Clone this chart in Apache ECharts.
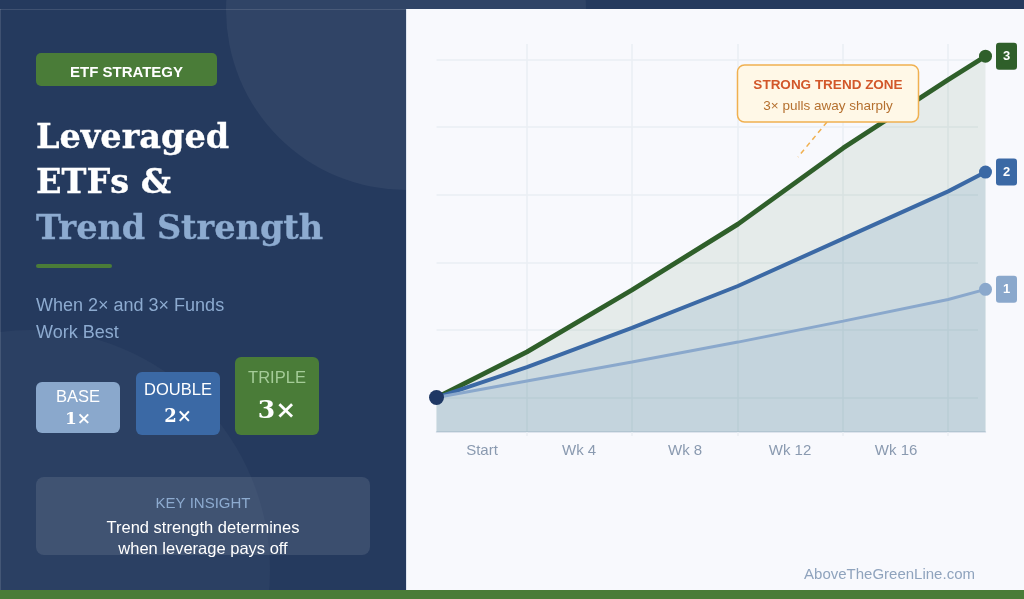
<!DOCTYPE html>
<html><head><meta charset="utf-8"><style>html,body{margin:0;padding:0;background:#f8f9fd}#c{width:1024px;height:599px}</style>
<script src="https://cdn.jsdelivr.net/npm/echarts@6/dist/echarts.min.js"></script></head><body><div id="c"></div>
<script>
const weeks=[0,3.44,7.43,11.46,15.46,19.45,20.87];
const triple=[100,113.5,131.8,151.3,173.8,194,201];
const double=[100,109,120.6,133,147,161,166.7];
const base=[100,104.9,110.5,116.4,122.6,129,132];
const tickLabels=['Start','Wk 4','Wk 8','Wk 12','Wk 16'];
const labelWeeks=[1.73,5.42,9.45,13.44,17.47];
const yLines=[100,120,140,160,180,200];
const SANS='"Liberation Sans"',SERIF='"DejaVu Serif"';
const T=(text,x,y,fill,font,align,z,sw)=>{const s=parseFloat(font.match(/([\d.]+)px/)[1]);return {type:'text',z:z||5,style:Object.assign({text,x,y:y-0.35*s,fill,font,align:align||'left',verticalAlign:'middle'},sw?{stroke:fill,lineWidth:sw}:{})}};
const R=(x,y,w,h,r,fill,z)=>({type:'rect',z:z||4,shape:{x,y,width:w,height:h,r},style:{fill}});
const lab=v=>{const i=labelWeeks.indexOf(v);return i<0?'':tickLabels[i]};
const mk=(name,vals,color,lw,areaColor,op,label)=>({type:'line',name,xAxisIndex:1,yAxisIndex:1,
  data:weeks.map((w,i)=>[w,vals[i]]),smooth:false,clip:false,showSymbol:true,
  symbol:'circle',symbolSize:(v,p)=>p.dataIndex===weeks.length-1?13:0,
  lineStyle:{color,width:lw},itemStyle:{color},areaStyle:{color:areaColor,opacity:op,origin:'start'},
  endLabel:{show:true,formatter:label,position:'right',distance:21,backgroundColor:color,color:'#fff',
    fontFamily:SANS,fontWeight:'bold',fontSize:13,width:21,height:27,lineHeight:27,align:'center',verticalAlign:'middle',borderRadius:3},
  emphasis:{disabled:true},animation:false});
const bg=[
 R(0,0,1024,9,0,'#253a5e',-20),
 R(0,9,407,581,0,'#253a5e',-20),
 {type:'circle',z:-19,shape:{cx:406,cy:10,r:180},style:{fill:'rgba(255,255,255,0.05)'}},
 {type:'circle',z:-19,shape:{cx:30,cy:570,r:240},style:{fill:'rgba(255,255,255,0.03)'}},
 R(0,9,407,1,0,'rgba(255,255,255,0.12)',-18),
 R(0,9,1,581,0,'rgba(255,255,255,0.12)',-18),
 R(406,9,618,581,0,'#f8f9fd',-17),
 R(406,9,1,581,0,'#dfe6f0',-16),
 R(0,590,1024,9,0,'#4a7c38',-15)
];
const left=[
 R(36,53,181,33,5,'#4a7c38'),
 T('ETF STRATEGY',126.5,78,'#fff','bold 15px '+SANS,'center'),
 T('Leveraged',36,151,'#fff','bold 33.5px '+SERIF,'left',5,.35),
 T('ETFs &',36,196.5,'#fff','bold 33.5px '+SERIF,'left',5,.35),
 T('Trend Strength',36,242,'#8dabd0','bold 33.5px '+SERIF,'left',5,.35),
 R(36,264,76,4,2,'#4a7c38'),
 T('When 2× and 3× Funds',36,312,'#8dabd0','18px '+SANS),
 T('Work Best',36,339,'#8dabd0','18px '+SANS),
 R(36,382,84,51,6,'#8aa8cc'),
 T('BASE',78,403,'#fff','16.5px '+SANS,'center'),
 T('1×',78,425.5,'#fff','bold 17px '+SERIF,'center'),
 R(136,372,84,63,6,'#3b69a5'),
 T('DOUBLE',178,396,'#fff','16.5px '+SANS,'center'),
 T('2×',178,424,'#fff','bold 18px '+SERIF,'center'),
 R(235,357,84,78,6,'#4a7c38'),
 T('TRIPLE',277,384,'#a5cc98','16.5px '+SANS,'center'),
 T('3×',277,420,'#fff','bold 25px '+SERIF,'center'),
 R(36,477,334,78,8,'rgba(255,255,255,0.1)'),
 T('KEY INSIGHT',203,509,'#8dabd0','15px '+SANS,'center'),
 T('Trend strength determines',203,534,'#fff','16.5px '+SANS,'center'),
 T('when leverage pays off',203,555,'#fff','16.5px '+SANS,'center')
];
const call=[
 {type:'line',z:100,shape:{x1:827,y1:122,x2:798,y2:157},style:{stroke:'#f0b050',lineWidth:1.5,lineDash:[5,4]}},
 {type:'rect',z:101,shape:{x:737.5,y:65,width:181,height:57,r:7},style:{fill:'#fff8e7',stroke:'#f0b050',lineWidth:1.5}},
 T('STRONG TREND ZONE',828,90,'#d2572a','bold 13.5px '+SANS,'center',102),
 T('3× pulls away sharply',828,111,'#b5702f','13.5px '+SANS,'center',102),
 T('AboveTheGreenLine.com',889.5,580,'#8fa3bd','15px '+SANS,'center',102)
];
const yMin=89.8,yMax=204.6,gridLine={show:true,lineStyle:{color:'#eaeef3',width:1.5}};
const chart=echarts.init(document.getElementById('c'),null,{renderer:'canvas'});
chart.setOption({animation:false,backgroundColor:'#f8f9fd',
 grid:[{left:436.5,width:541.5,top:44,height:388},{left:436.5,width:549,top:44,height:388}],
 xAxis:[{gridIndex:0,type:'value',min:0,max:20,show:false},
  {gridIndex:1,type:'value',min:0,max:20.87,axisLine:{show:true,lineStyle:{color:'#d5dde8',width:1.5}},
   axisTick:{show:true,length:4,customValues:weeks.slice(1,6),lineStyle:{color:'#eaeef3',width:1.5}},
   splitLine:gridLine,
   axisLabel:{customValues:labelWeeks,formatter:lab,color:'#8a9ab0',fontSize:15,fontFamily:SANS,margin:11,hideOverlap:false}}],
 yAxis:[{gridIndex:0,type:'value',min:yMin,max:yMax,axisLine:{show:false},axisTick:{show:false,customValues:yLines},axisLabel:{show:false},splitLine:gridLine},
  {gridIndex:1,type:'value',min:yMin,max:yMax,show:false}],
 graphic:[{elements:bg.concat(left,call)}],
 series:[mk('Triple',triple,'#2f5f2a',4.8,'#2f5f2a',.09,'3'),mk('Double',double,'#3b69a5',4,'#3a76a5',.15,'2'),mk('Base',base,'#8aa8cc',3,'#7fa8c8',.1,'1'),
  {type:'scatter',xAxisIndex:1,yAxisIndex:1,data:[[weeks[0],triple[0]]],symbolSize:15,clip:false,z:5,itemStyle:{color:'#1f3864',opacity:1},emphasis:{disabled:true}}]
});
</script></body></html>
